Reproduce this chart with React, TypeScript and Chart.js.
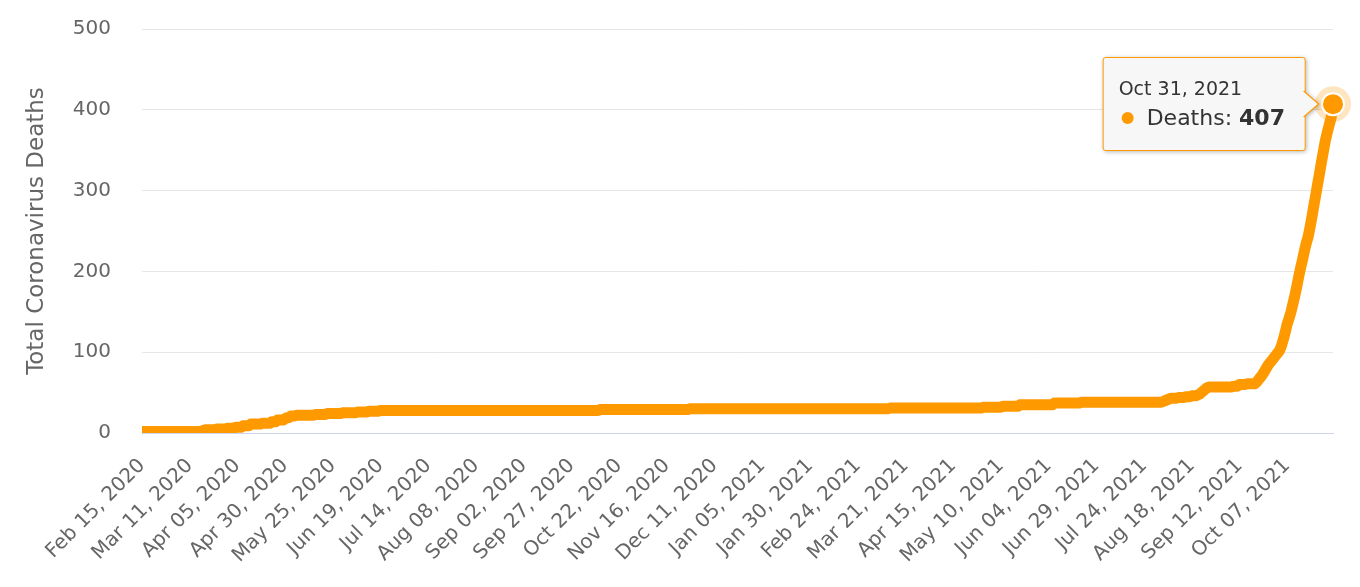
import React, { useEffect, useRef } from "react";
import { Chart, registerables } from "chart.js";

Chart.register(...registerables);

// ---- data (cumulative deaths per day) ----
const START_YEAR = 2020;
const START_MONTH = 1; // February (0-based)
const START_DAY = 15;
const TICK_EVERY = 25;
const SERIES_NAME = "Deaths";
const Y_TITLE = "Total Coronavirus Deaths";
const Y_MIN = 0;
const Y_MAX = 500;
const Y_STEP = 100;
const MONTH_NAMES = ["Jan", "Feb", "Mar", "Apr", "May", "Jun", "Jul", "Aug", "Sep", "Oct", "Nov", "Dec"];

const feb2020 = [2, 2, 2, 2, 2, 2, 2, 2, 2, 2, 2, 2, 2, 2, 2];
const mar2020 = [2, 2, 2, 2, 2, 2, 2, 2, 2, 2, 2, 2, 2, 2, 2, 2, 2, 3, 4, 4, 4, 4, 4, 4, 5, 5, 5, 5, 5, 5, 6];
const apr2020 = [6, 6, 6, 7, 7, 7, 7, 9, 9, 9, 9, 11, 11, 11, 11, 11, 11, 12, 12, 12, 12, 12, 14, 14, 14, 16, 16, 16, 16, 18];
const may2020 = [19, 19, 21, 21, 21, 22, 22, 22, 22, 22, 22, 22, 22, 22, 22, 23, 23, 23, 23, 23, 23, 24, 24, 24, 24, 24, 24, 24, 24, 25, 25];
const jun2020 = [25, 25, 25, 25, 25, 25, 26, 26, 26, 26, 26, 26, 27, 27, 27, 27, 27, 27, 28, 28, 28, 28, 28, 28, 28, 28, 28, 28, 28, 28];
const jul2020 = [28, 28, 28, 28, 28, 28, 28, 28, 28, 28, 28, 28, 28, 28, 28, 28, 28, 28, 28, 28, 28, 28, 28, 28, 28, 28, 28, 28, 28, 28, 28];
const aug2020 = [28, 28, 28, 28, 28, 28, 28, 28, 28, 28, 28, 28, 28, 28, 28, 28, 28, 28, 28, 28, 28, 28, 28, 28, 28, 28, 28, 28, 28, 28, 28];
const sep2020 = [28, 28, 28, 28, 28, 28, 28, 28, 28, 28, 28, 28, 28, 28, 28, 28, 28, 28, 28, 28, 28, 28, 28, 28, 28, 28, 28, 28, 28, 28];
const oct2020 = [28, 28, 28, 28, 28, 28, 28, 28, 28, 28, 28, 29, 29, 29, 29, 29, 29, 29, 29, 29, 29, 29, 29, 29, 29, 29, 29, 29, 29, 29, 29];
const nov2020 = [29, 29, 29, 29, 29, 29, 29, 29, 29, 29, 29, 29, 29, 29, 29, 29, 29, 29, 29, 29, 29, 29, 29, 29, 29, 29, 29, 30, 30, 30];
const dec2020 = [30, 30, 30, 30, 30, 30, 30, 30, 30, 30, 30, 30, 30, 30, 30, 30, 30, 30, 30, 30, 30, 30, 30, 30, 30, 30, 30, 30, 30, 30, 30];
const jan2021 = [30, 30, 30, 30, 30, 30, 30, 30, 30, 30, 30, 30, 30, 30, 30, 30, 30, 30, 30, 30, 30, 30, 30, 30, 30, 30, 30, 30, 30, 30, 30];
const feb2021 = [30, 30, 30, 30, 30, 30, 30, 30, 30, 30, 30, 30, 30, 30, 30, 30, 30, 30, 30, 30, 30, 30, 30, 30, 30, 30, 30, 30];
const mar2021 = [30, 30, 30, 30, 30, 30, 30, 30, 30, 30, 30, 30, 31, 31, 31, 31, 31, 31, 31, 31, 31, 31, 31, 31, 31, 31, 31, 31, 31, 31, 31];
const apr2021 = [31, 31, 31, 31, 31, 31, 31, 31, 31, 31, 31, 31, 31, 31, 31, 31, 31, 31, 31, 31, 31, 31, 31, 31, 31, 31, 31, 31, 31, 31];
const may2021 = [32, 32, 32, 32, 32, 32, 32, 32, 32, 32, 33, 33, 33, 33, 33, 33, 33, 33, 33, 35, 35, 35, 35, 35, 35, 35, 35, 35, 35, 35, 35];
const jun2021 = [35, 35, 35, 35, 35, 35, 37, 37, 37, 37, 37, 37, 37, 37, 37, 37, 37, 37, 37, 37, 38, 38, 38, 38, 38, 38, 38, 38, 38, 38];
const jul2021 = [38, 38, 38, 38, 38, 38, 38, 38, 38, 38, 38, 38, 38, 38, 38, 38, 38, 38, 38, 38, 38, 38, 38, 38, 38, 38, 38, 38, 38, 38, 38];
const aug2021 = [38, 38, 39, 40, 41, 42, 43, 43, 43, 43, 44, 44, 44, 44, 45, 45, 45, 46, 46, 46, 47, 48, 50, 52, 54, 56, 57, 57, 57, 57, 57];
const sep2021 = [57, 57, 57, 57, 57, 57, 57, 57, 58, 58, 58, 60, 60, 60, 60, 61, 61, 61, 61, 61, 63, 66, 69, 72, 76, 80, 84, 87, 90, 93];
const oct2021 = [96, 99, 102, 108, 116, 125, 135, 142, 150, 160, 170, 181, 193, 204, 214, 225, 235, 243, 255, 268, 282, 295, 309, 322, 336, 349, 362, 372, 381, 390, 407];

const deaths: number[] = [
  ...feb2020, ...mar2020, ...apr2020, ...may2020, ...jun2020, ...jul2020, ...aug2020,
  ...sep2020, ...oct2020, ...nov2020, ...dec2020, ...jan2021, ...feb2021, ...mar2021,
  ...apr2021, ...may2021, ...jun2021, ...jul2021, ...aug2021, ...sep2021, ...oct2021,
];

const dateLabels: string[] = deaths.map((_, i) => {
  const d = new Date(Date.UTC(START_YEAR, START_MONTH, START_DAY + i));
  return `${MONTH_NAMES[d.getUTCMonth()]} ${String(d.getUTCDate()).padStart(2, "0")}, ${d.getUTCFullYear()}`;
});

// ---- styles ----
const FONT = "'DejaVu Sans', 'Noto Sans', sans-serif";
const ORANGE = "#FF9900";
const AXIS_TEXT = "#666666";
const GRID = "#e6e6e6";
const AXIS_LINE = "#ccd6eb";

const zeroPaddings = (scale: any) => {
  scale.paddingTop = 0;
  scale.paddingBottom = 0;
  scale.paddingLeft = 0;
  scale.paddingRight = 0;
};

export default function App() {
  const canvasRef = useRef<HTMLCanvasElement>(null);
  const wrapRef = useRef<HTMLDivElement>(null);

  useEffect(() => {
    document.body.style.margin = "0";
    const canvas = canvasRef.current!;
    const wrap = wrapRef.current!;
    let tipEl: HTMLDivElement | null = null;

    const external = (ctx: any) => {
      const { tooltip } = ctx;
      if (!tipEl) {
        tipEl = document.createElement("div");
        tipEl.style.position = "absolute";
        tipEl.style.pointerEvents = "none";
        tipEl.style.filter = "drop-shadow(1px 1px 2px rgba(0,0,0,0.28))";
        wrap.appendChild(tipEl);
      }
      if (tooltip.opacity === 0 || !tooltip.dataPoints || !tooltip.dataPoints.length) {
        tipEl.style.display = "none";
        return;
      }
      const dp = tooltip.dataPoints[0];
      tipEl.style.display = "block";
      tipEl.innerHTML = `
        <div style="position:relative;background:#f7f7f7;border:1px solid ${ORANGE};border-radius:3px;padding:19px 20px 17px 15px;font-family:${FONT};color:#333333;white-space:nowrap;">
          <div style="font-size:19px;line-height:23px;">${dp.label}</div>
          <div style="font-size:22px;line-height:30px;margin-top:3px;">
            <span style="display:inline-block;width:12px;height:12px;border-radius:50%;background:${ORANGE};margin-left:3px;margin-right:13px;vertical-align:1px;"></span>${dp.dataset.label}: <b>${dp.formattedValue}</b>
          </div>
          <svg width="17" height="26" style="position:absolute;left:100%;top:50%;margin-left:-1px;margin-top:-13px;overflow:visible;">
            <polygon points="0,0 15,13 0,26" fill="#f7f7f7" />
            <polyline points="0,0 15,13 0,26" fill="none" stroke="${ORANGE}" stroke-width="1.2" />
          </svg>
        </div>`;
      tipEl.style.left = `${tooltip.caretX - 27}px`;
      tipEl.style.top = `${tooltip.caretY}px`;
      tipEl.style.transform = "translate(-100%, -50%)";
    };

    const lastPointMarker = {
      id: "lastPointMarker",
      afterDatasetsDraw(chart: any) {
        const meta = chart.getDatasetMeta(0);
        const el = meta.data[meta.data.length - 1];
        if (!el) return;
        const c = chart.ctx;
        c.save();
        c.beginPath();
        c.arc(el.x, el.y, 18, 0, Math.PI * 2);
        c.fillStyle = "rgba(255,153,0,0.25)";
        c.fill();
        c.beginPath();
        c.arc(el.x, el.y, 12, 0, Math.PI * 2);
        c.fillStyle = "#ffffff";
        c.fill();
        c.beginPath();
        c.arc(el.x, el.y, 10, 0, Math.PI * 2);
        c.fillStyle = ORANGE;
        c.fill();
        c.restore();
      },
    };

    const chart = new Chart(canvas, {
      type: "line",
      data: {
        labels: dateLabels,
        datasets: [
          {
            label: SERIES_NAME,
            data: deaths,
            borderColor: ORANGE,
            backgroundColor: ORANGE,
            borderWidth: 11,
            borderCapStyle: "round",
            borderJoinStyle: "round",
            pointRadius: 0,
            pointHoverRadius: 0,
            tension: 0,
            fill: false,
            clip: { left: 0, top: 20, right: 20, bottom: 0 } as any,
          },
        ],
      },
      options: {
        animation: false,
        responsive: false,
        devicePixelRatio: 1,
        events: [],
        layout: { padding: { left: 0, right: 27, top: 29, bottom: 0 } },
        plugins: {
          legend: { display: false },
          title: { display: false },
          tooltip: {
            enabled: false,
            external,
            mode: "index",
            intersect: false,
          },
        },
        scales: {
          x: {
            type: "category",
            grid: { display: false, drawTicks: false },
            border: { display: true, color: AXIS_LINE, width: 1 },
            ticks: {
              autoSkip: false,
              minRotation: 45,
              maxRotation: 45,
              padding: 21,
              color: AXIS_TEXT,
              font: { family: FONT, size: 20 },
              callback: function (this: any, value: any, index: number) {
                return index % TICK_EVERY === 0 ? this.getLabelForValue(value) : "";
              },
            },
            afterFit: (scale: any) => {
              scale.height = 154;
              zeroPaddings(scale);
            },
          },
          y: {
            min: Y_MIN,
            max: Y_MAX,
            border: { display: false },
            grid: {
              drawTicks: false,
              color: (ctx: any) => (ctx.tick && ctx.tick.value === 0 ? AXIS_LINE : GRID),
              lineWidth: 1,
            },
            ticks: {
              stepSize: Y_STEP,
              padding: 31,
              color: AXIS_TEXT,
              font: { family: FONT, size: 20 },
            },
            title: {
              display: true,
              text: Y_TITLE,
              color: AXIS_TEXT,
              font: { family: FONT, size: 23, weight: "normal" },
              padding: { top: 23, bottom: 0 },
            },
            afterFit: (scale: any) => {
              scale.width = 142;
              zeroPaddings(scale);
            },
          },
        },
      },
      plugins: [lastPointMarker],
    });

    const last = deaths.length - 1;
    const el: any = chart.getDatasetMeta(0).data[last];
    if (chart.tooltip && el) {
      chart.tooltip.setActiveElements([{ datasetIndex: 0, index: last }], { x: el.x, y: el.y });
      chart.update();
    }

    return () => {
      chart.destroy();
      if (tipEl) tipEl.remove();
    };
  }, []);

  return (
    <div ref={wrapRef} style={{ position: "relative", width: 1360, height: 587 }}>
      <canvas ref={canvasRef} width={1360} height={587} style={{ display: "block" }} />
    </div>
  );
}
